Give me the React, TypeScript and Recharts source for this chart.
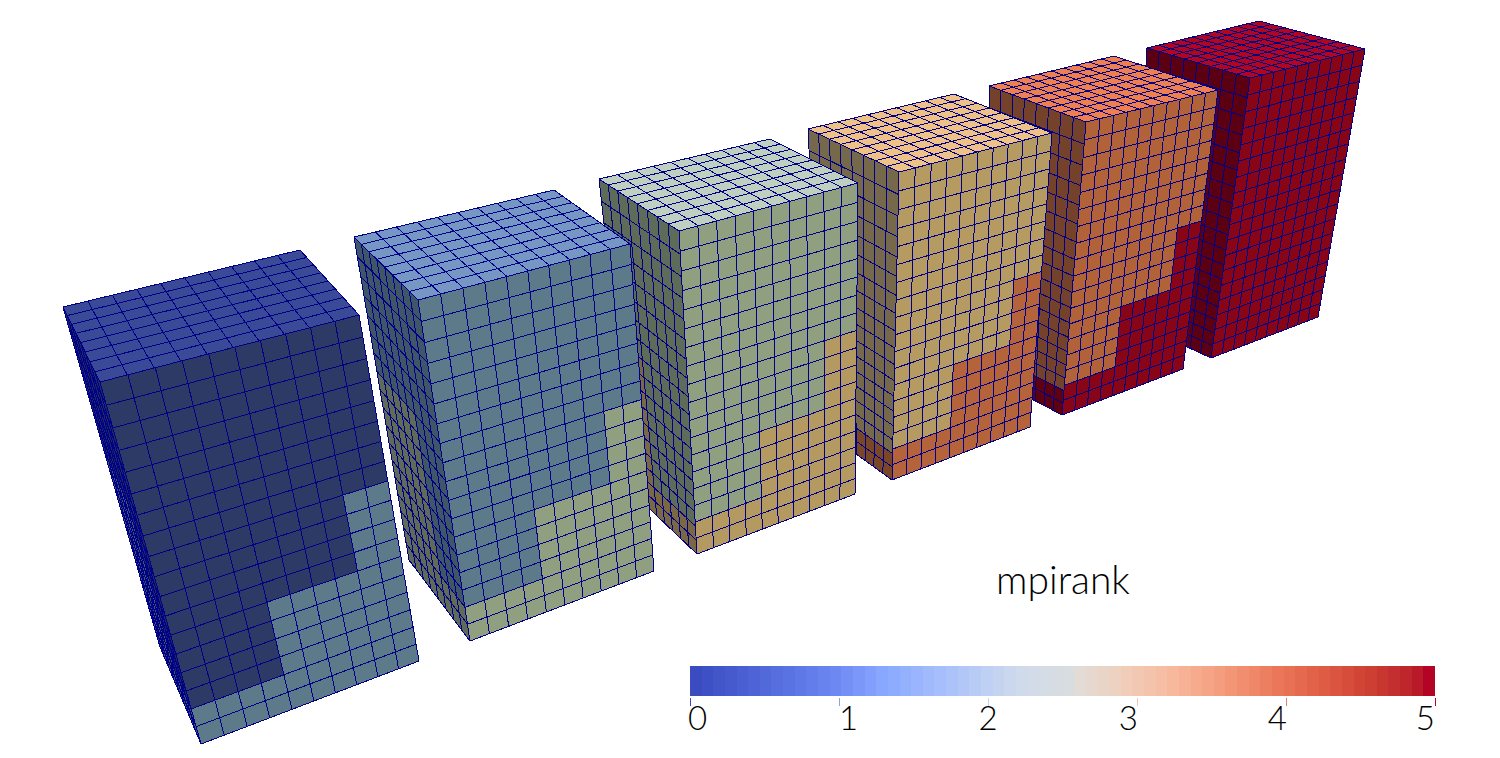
import React from 'react';
import { Bar, Cell, ComposedChart, Scatter, ScatterChart, XAxis, YAxis } from 'recharts';

// corners, in page pixels: left, back, right, front
const topFaces = [
  [[63, 307], [300, 250], [359, 315], [100, 382]],
  [[354, 237], [554, 190], [630, 244], [418, 300]],
  [[599, 179], [770, 139], [858, 183], [679, 231]],
  [[808, 129], [954, 94], [1052, 133], [899, 172]],
  [[989, 86], [1114, 56], [1218, 90], [1086, 122]],
  [[1147, 48], [1259, 21], [1365, 49], [1250, 78]],
];
// front top-left, top-right, bottom-right, bottom-left
const frontFaces = [
  [[100, 382], [359, 315], [419, 661], [201, 744]],
  [[418, 300], [630, 244], [654, 571], [470, 641]],
  [[679, 231], [858, 183], [855, 494], [697, 554]],
  [[899, 172], [1052, 133], [1030, 427], [892, 480]],
  [[1086, 122], [1218, 90], [1183, 369], [1062, 415]],
  [[1250, 78], [1365, 49], [1318, 317], [1211, 358]],
];
// back top, front top, front bottom, back bottom
const sideFaces = [
  [[63, 307], [100, 382], [201, 744], [160, 647]],
  [[354, 237], [418, 300], [470, 641], [409, 560]],
  [[599, 179], [679, 231], [697, 554], [634, 494]],
  [[808, 129], [899, 172], [892, 480], [823, 430]],
  [[989, 86], [1086, 122], [1062, 415], [992, 378]],
  [[1147, 48], [1250, 78], [1211, 358], [1131, 321]],
];

// cell counts of the mesh
const topCols = 10;
const topRows = 8;
const frontCols = 10;
const sideCols = 8;
const wallRows = 18;

// blocks of cells owned by the next rank: [first col, last col, rows from the bottom]
const frontSteps = [[0, 10, 2], [4, 10, 6], [8, 10, 10]];
const sideBaseStep = [0, 8, 2];
const sideBackSteps = [[0, 5, 11], [0, 5, 11], [0, 3, 10], [0, 3, 10], [0, 3, 10], [0, 3, 10]];

const topColors = ['#3a4a96', '#7696c4', '#bfcfc0', '#eec287', '#ee7f4e', '#b0061f'];
const frontColors = ['#2d3a66', '#5c7a8a', '#8f9f7f', '#b59b62', '#b26238', '#880417'];
const frontNextColors = ['#5c7a8a', '#8f9f7f', '#b49a60', '#b5633a', '#880417', '#880417'];
const sideColors = ['#1e2a5e', '#3f5668', '#5e6b58', '#76684a', '#74412a', '#5a0012'];
const sideNextColors = ['#3f5668', '#5f6b58', '#7a6845', '#7a4628', '#5c0012', '#5a0012'];

const bandColors = [
  '#3b4cc0', '#3e50c5', '#4255c9', '#465ace', '#4a5fd2', '#4e64d6', '#5269da', '#566ede',
  '#5a73e2', '#5e78e6', '#637dea', '#6882ee', '#6d88f2', '#748ff6', '#7b97fa', '#829ffd',
  '#88a7fe', '#8eacfe', '#94b1fe', '#9ab5fd', '#a0bafc', '#a6befb', '#acc3f9', '#b2c7f7',
  '#b8cbf5', '#bed0f3', '#c4d3f0', '#cad7ee', '#cfdaeb', '#d3dbe8', '#d4dce5', '#d6dce2',
  '#d8dde0', '#e2dbd6', '#e6d8cf', '#e9d5c8', '#edd1c1', '#f0ccb9', '#f2c8b2', '#f4c3ab',
  '#f6bea4', '#f7b89c', '#f7b295', '#f6ab8d', '#f6a486', '#f59e7f', '#f29676', '#f18e6f',
  '#ef8768', '#ed7f61', '#eb775a', '#e87053', '#e5694e', '#e16249', '#de5b44', '#da543f',
  '#d64d3b', '#d14536', '#cd3e33', '#c83630', '#c32e2e', '#be262c', '#b91a2a', '#b40426',
];
const rankTicks = [0, 1, 2, 3, 4, 5];
const tickColors = ['#3b4cc0', '#88a0ee', '#c4d2f0', '#f4c8ae', '#e88068', '#b40426'];
const tickAnchors = ['start', 'start', 'middle', 'end', 'end', 'end'];
const tickOffsets = [-2, 0, 0, 1, 1, 0];

const MESH = '#000088';

// perspective map of the unit square onto a face; the mesh follows from corners and counts
function facePoint(q: number[][], u: number, v: number) {
  const [[x0, y0], [x1, y1], [x2, y2], [x3, y3]] = q;
  const dx1 = x1 - x2;
  const dx2 = x3 - x2;
  const sx = x0 - x1 + x2 - x3;
  const dy1 = y1 - y2;
  const dy2 = y3 - y2;
  const sy = y0 - y1 + y2 - y3;
  const den = dx1 * dy2 - dx2 * dy1;
  const g = (sx * dy2 - dx2 * sy) / den;
  const h = (dx1 * sy - sx * dy1) / den;
  const w = g * u + h * v + 1;
  return {
    x: ((x1 - x0 + g * x1) * u + (x3 - x0 + h * x3) * v + x0) / w,
    y: ((y1 - y0 + g * y1) * u + (y3 - y0 + h * y3) * v + y0) / w,
  };
}

function meshSegments(q: number[][], cols: number, rows: number) {
  const out: { x: number; y: number }[] = [];
  for (let i = 0; i <= cols; i++) out.push(facePoint(q, i / cols, 0), facePoint(q, i / cols, 1));
  for (let j = 0; j <= rows; j++) out.push(facePoint(q, 0, j / rows), facePoint(q, 1, j / rows));
  return out;
}

function stepQuad(q: number[][], cols: number, rows: number, step: number[]) {
  const [a, b, n] = step;
  const v = 1 - n / rows;
  return [facePoint(q, a / cols, v), facePoint(q, b / cols, v), facePoint(q, b / cols, 1), facePoint(q, a / cols, 1)];
}

const noMark = () => <g />;
const fillLine = (fill: string) => (p: any) => (
  <polygon
    points={p.points.map((e: any) => `${e.x},${e.y}`).join(' ')}
    fill={fill}
    stroke="none"
    shapeRendering="crispEdges"
  />
);
const meshLine = (p: any) => {
  let d = '';
  p.points.forEach((e: any, i: number) => {
    d += `${i % 2 === 0 ? 'M' : 'L'}${e.x} ${e.y}`;
  });
  return <path d={d} fill="none" stroke={MESH} strokeWidth={1} shapeRendering="crispEdges" />;
};

const cornerPoints = (q: number[][]) => q.map(([x, y]) => ({ x, y }));

function blockSeries(b: number) {
  const items: React.ReactNode[] = [];
  const add = (key: string, data: { x: number; y: number }[], line: any) =>
    items.push(<Scatter key={`${b}-${key}`} data={data} line={line} shape={noMark} isAnimationActive={false} />);

  add('side', cornerPoints(sideFaces[b]), fillLine(sideColors[b]));
  [sideBaseStep, sideBackSteps[b]].forEach((s, i) =>
    add(`side${i}`, stepQuad(sideFaces[b], sideCols, wallRows, s), fillLine(sideNextColors[b])),
  );
  add('sideMesh', meshSegments(sideFaces[b], sideCols, wallRows), meshLine);

  add('front', cornerPoints(frontFaces[b]), fillLine(frontColors[b]));
  frontSteps.forEach((s, i) =>
    add(`front${i}`, stepQuad(frontFaces[b], frontCols, wallRows, s), fillLine(frontNextColors[b])),
  );
  add('frontMesh', meshSegments(frontFaces[b], frontCols, wallRows), meshLine);

  add('top', cornerPoints(topFaces[b]), fillLine(topColors[b]));
  add('topMesh', meshSegments(topFaces[b], topCols, topRows), meshLine);
  return items;
}

// each colour band sits at its own place on the 0..5 rank axis
const bandData = bandColors.map((color, band) => ({ rank: ((band + 0.5) * 5) / bandColors.length, full: 1 }));

const RankTick = (props: any) => {
  const { x, y, payload, index } = props;
  return (
    <g>
      <line x1={x} x2={x} y1={y - 8} y2={y} stroke={tickColors[index]} strokeWidth={1} shapeRendering="crispEdges" />
      <text
        x={x + tickOffsets[index]}
        y={y + 24}
        textAnchor={tickAnchors[index]}
        fontFamily="Lato"
        fontWeight={300}
        fontSize={33}
        fill="#000"
      >
        {payload.value}
      </text>
    </g>
  );
};

export default function App() {
  return (
    <div style={{ position: 'absolute', left: 0, top: 0, width: 1500, height: 758, background: '#fff', overflow: 'hidden' }}>
      <div style={{ position: 'absolute', left: 0, top: 0 }}>
        <ScatterChart width={1500} height={758} margin={{ top: 0, right: 0, bottom: 0, left: 0 }}>
          <XAxis type="number" dataKey="x" domain={[0, 1500]} hide />
          <YAxis type="number" dataKey="y" domain={[0, 758]} reversed hide />
          {[5, 4, 3, 2, 1, 0].map((b) => blockSeries(b))}
        </ScatterChart>
      </div>
      <div style={{ position: 'absolute', left: 680, top: 550 }}>
        <ComposedChart
          width={765}
          height={208}
          data={bandData}
          barCategoryGap={0}
          margin={{ top: 116, right: 10, bottom: 0, left: 10 }}
        >
          <XAxis
            dataKey="rank"
            type="number"
            domain={[0, 5]}
            ticks={rankTicks}
            interval={0}
            height={62}
            axisLine={false}
            tickLine={false}
            tickSize={8}
            tick={<RankTick />}
          />
          <YAxis domain={[0, 1]} hide />
          <Bar dataKey="full" isAnimationActive={false} shapeRendering="crispEdges">
            {bandColors.map((c) => (
              <Cell key={c} fill={c} />
            ))}
          </Bar>
          <text x={383} y={44} textAnchor="middle" fontFamily="Lato" fontWeight={300} fontSize={39} fill="#000">
            mpirank
          </text>
        </ComposedChart>
      </div>
    </div>
  );
}
